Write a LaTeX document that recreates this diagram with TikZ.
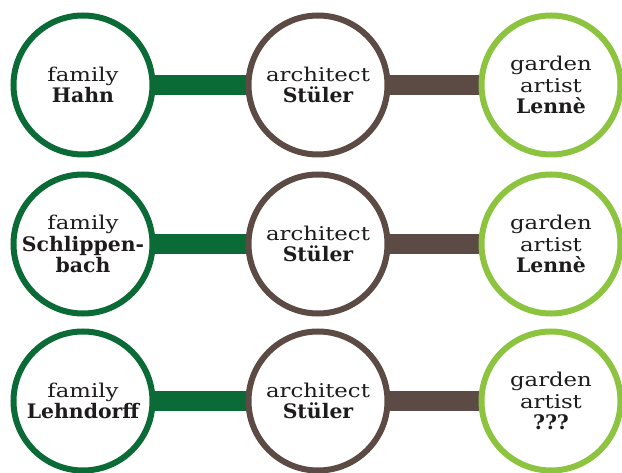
\documentclass[tikz,border=0pt]{standalone}
\usepackage{fontspec}
\setmainfont{DejaVu Serif}
\newfontfamily\regf{DejaVu Serif}[FakeStretch=1.2]
\newfontfamily\boldf{DejaVu Serif}[FakeStretch=1.02]
\newcommand\bdt[1]{{\boldf\bfseries\fontsize{20}{21.5}\selectfont #1}}
\usetikzlibrary{backgrounds}
\definecolor{dkgreen}{HTML}{0B6B36}
\definecolor{brownish}{HTML}{5C4A44}
\definecolor{ltgreen}{HTML}{8CC43F}
\definecolor{inktext}{HTML}{1E1B1C}
\begin{document}
\begin{tikzpicture}[x=1pt,y=-1pt,
  ring/.style={circle, minimum size=139pt, line width=6pt, fill=white, draw=#1,
    align=center, text=inktext, inner sep=0pt,
    font=\regf\fontsize{19}{21.5}\selectfont},
  bar/.style={line width=20pt, draw=#1}]
\useasboundingbox (0,0) rectangle (622,473);
% row 1
\node[ring=dkgreen]  (l1) at (83,85)  {family\\\bdt{Hahn}};
\node[ring=brownish] (m1) at (318,85) {architect\\\bdt{Stüler}};
\node[ring=ltgreen]  (r1) at (551,85) {garden\\artist\\\bdt{Lennè}};
% row 2
\node[ring=dkgreen]  (l2) at (83,244)  {family\\\bdt{Schlippen-}\\\bdt{bach}};
\node[ring=brownish] (m2) at (318,244) {architect\\\bdt{Stüler}};
\node[ring=ltgreen]  (r2) at (551,244) {garden\\artist\\\bdt{Lennè}};
% row 3
\node[ring=dkgreen]  (l3) at (83,401)  {family\\\bdt{Lehndorff}};
\node[ring=brownish] (m3) at (318,401) {architect\\\bdt{Stüler}};
\node[ring=ltgreen]  (r3) at (551,401) {garden\\artist\\\bdt{???}};
\begin{scope}[on background layer]
\fill[white] (0,0) rectangle (622,473);
\draw[bar=dkgreen]  (l1.center) -- (m1.center);
\draw[bar=brownish] (m1.center) -- (r1.center);
\draw[bar=dkgreen]  (l2.center) -- (m2.center);
\draw[bar=brownish] (m2.center) -- (r2.center);
\draw[bar=dkgreen]  (l3.center) -- (m3.center);
\draw[bar=brownish] (m3.center) -- (r3.center);
\end{scope}
\end{tikzpicture}
\end{document}
